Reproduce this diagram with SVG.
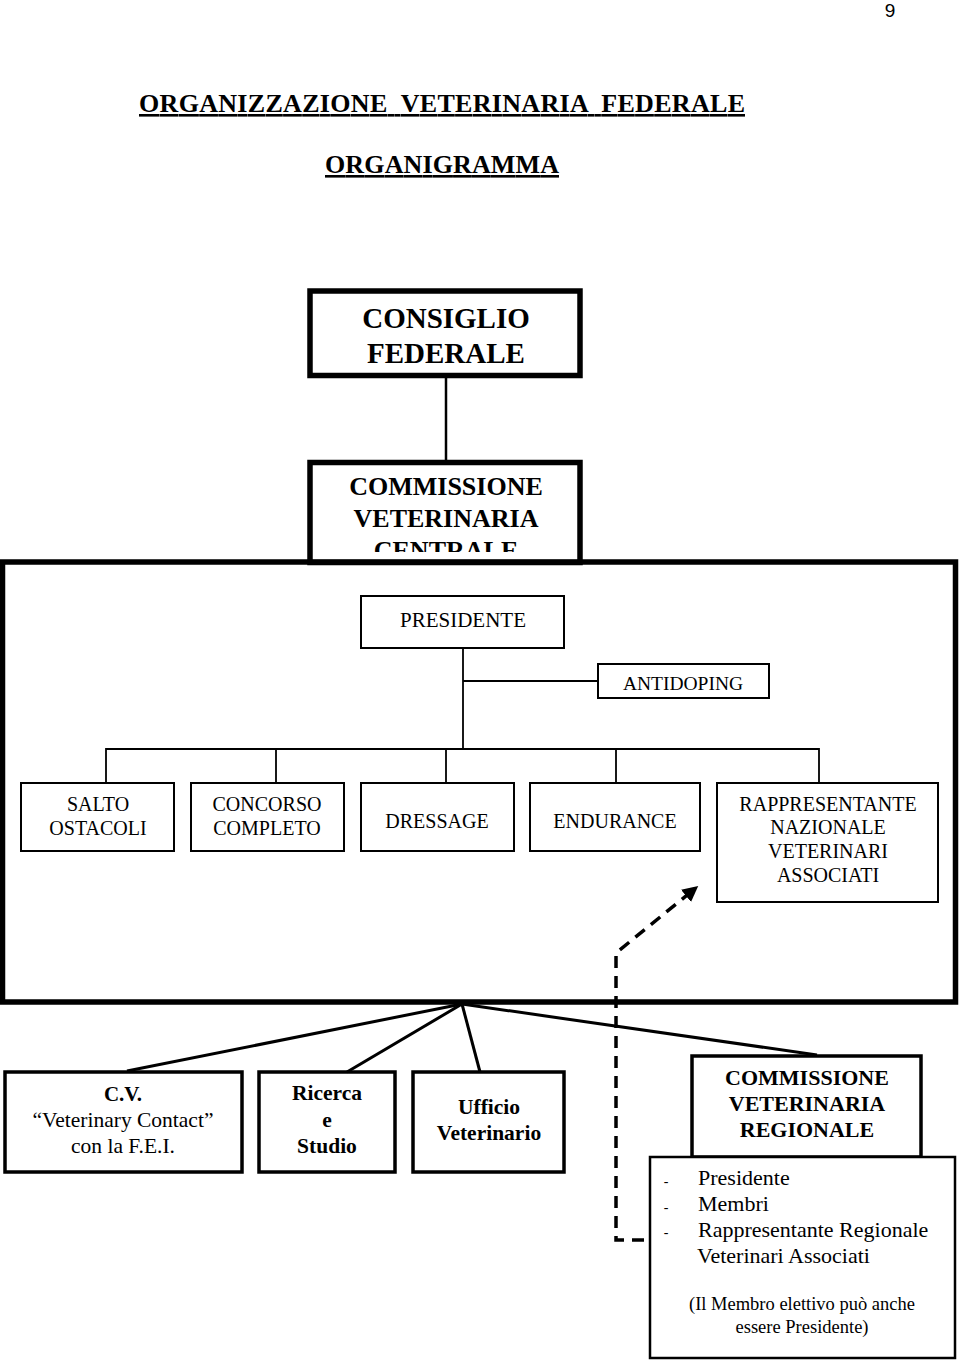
<svg xmlns="http://www.w3.org/2000/svg" width="960" height="1362" viewBox="0 0 960 1362">
<style>
text{font-family:"Liberation Serif","Times New Roman",serif;fill:#000;text-anchor:middle}
.b{font-weight:bold}
.box{fill:none;stroke:#000}
.thin{stroke-width:2}
.bold{stroke-width:3.5}
.heavy{stroke-width:5.5}
.ln{stroke:#000;fill:none}
</style>
<defs>
<marker id="ah" viewBox="0 0 10 10" refX="9" refY="5" markerWidth="4.5" markerHeight="4.5" orient="auto" markerUnits="strokeWidth">
<path d="M0,0 L10,5 L0,10 z" fill="#000"/>
</marker>
<clipPath id="clipC"><rect x="300" y="455" width="300" height="97"/></clipPath>
</defs>
<rect width="960" height="1362" fill="#fff"/>

<g id="header">
<text x="890" y="17" style="font-family:'Liberation Sans',Arial,sans-serif;font-size:19px">9</text>
<text x="442" y="112" class="b" style="font-size:26px;white-space:pre" text-decoration="underline" xml:space="preserve" textLength="606" lengthAdjust="spacing">ORGANIZZAZIONE  VETERINARIA  FEDERALE</text>
<text x="442" y="173" class="b" style="font-size:26px" text-decoration="underline" textLength="234" lengthAdjust="spacing">ORGANIGRAMMA</text>
</g>

<g id="connectors">
<line class="ln" x1="446" y1="378" x2="446" y2="460" stroke-width="2.5"/>
<line class="ln" x1="463" y1="648" x2="463" y2="749" stroke-width="1.8"/>
<line class="ln" x1="463" y1="681" x2="598" y2="681" stroke-width="1.8"/>
<polyline class="ln" points="106,783 106,749 819,749 819,783" stroke-width="1.8"/>
<line class="ln" x1="276" y1="749" x2="276" y2="783" stroke-width="1.8"/>
<line class="ln" x1="446" y1="749" x2="446" y2="783" stroke-width="1.8"/>
<line class="ln" x1="616" y1="749" x2="616" y2="783" stroke-width="1.8"/>
<line class="ln" x1="462" y1="1004" x2="127" y2="1071" stroke-width="3"/>
<line class="ln" x1="462" y1="1004" x2="347" y2="1072" stroke-width="3"/>
<line class="ln" x1="462" y1="1004" x2="480" y2="1072" stroke-width="3"/>
<line class="ln" x1="462" y1="1004" x2="817" y2="1055" stroke-width="3"/>
<polyline class="ln" points="664,1240 616,1240 616,953 697,887" stroke-width="3.5" stroke-dasharray="12,8" marker-end="url(#ah)"/>
</g>

<g id="consiglio">
<rect class="box heavy" x="310" y="291" width="270" height="84.5"/>
<text x="446" y="328" class="b" style="font-size:29px">CONSIGLIO</text>
<text x="446" y="363" class="b" style="font-size:29px">FEDERALE</text>
</g>

<g id="centrale">
<rect class="box heavy" x="310" y="462.5" width="270" height="100"/>
<g clip-path="url(#clipC)">
<text x="446" y="495" class="b" style="font-size:26px">COMMISSIONE</text>
<text x="446" y="527" class="b" style="font-size:26px">VETERINARIA</text>
<text x="446" y="559" class="b" style="font-size:26px">CENTRALE</text>
</g>
</g>

<g id="frame">
<rect class="box" x="2.5" y="562" width="953" height="440" stroke-width="5.5"/>
</g>

<g id="presidente">
<rect class="box thin" x="361" y="596" width="203" height="52"/>
<text x="463" y="627" style="font-size:21px">PRESIDENTE</text>
</g>

<g id="antidoping">
<rect class="box thin" x="598" y="664" width="171" height="34"/>
<text x="683" y="690" style="font-size:19.5px">ANTIDOPING</text>
</g>

<g id="salto">
<rect class="box thin" x="21" y="783" width="153" height="68"/>
<text x="98" y="811" style="font-size:20px">SALTO</text>
<text x="98" y="835" style="font-size:20px">OSTACOLI</text>
</g>

<g id="concorso">
<rect class="box thin" x="191" y="783" width="153" height="68"/>
<text x="267" y="811" style="font-size:20px">CONCORSO</text>
<text x="267" y="835" style="font-size:20px">COMPLETO</text>
</g>

<g id="dressage">
<rect class="box thin" x="361" y="783" width="153" height="68"/>
<text x="437" y="828" style="font-size:20px">DRESSAGE</text>
</g>

<g id="endurance">
<rect class="box thin" x="530" y="783" width="170" height="68"/>
<text x="615" y="828" style="font-size:20px">ENDURANCE</text>
</g>

<g id="rappresentante">
<rect class="box thin" x="717" y="783" width="221" height="119"/>
<text x="828" y="811" style="font-size:20px">RAPPRESENTANTE</text>
<text x="828" y="834" style="font-size:20px">NAZIONALE</text>
<text x="828" y="858" style="font-size:20px">VETERINARI</text>
<text x="828" y="882" style="font-size:20px">ASSOCIATI</text>
</g>

<g id="cv">
<rect class="box bold" x="5" y="1072" width="237" height="100"/>
<text x="123" y="1101" class="b" style="font-size:21px">C.V.</text>
<text x="123" y="1127" style="font-size:21.5px">“Veterinary Contact”</text>
<text x="123" y="1153" style="font-size:21.5px">con la F.E.I.</text>
</g>

<g id="ricerca">
<rect class="box bold" x="259" y="1072" width="136" height="100"/>
<text x="327" y="1100" class="b" style="font-size:21.5px">Ricerca</text>
<text x="327" y="1127" class="b" style="font-size:21.5px">e</text>
<text x="327" y="1153" class="b" style="font-size:21.5px">Studio</text>
</g>

<g id="ufficio">
<rect class="box bold" x="413" y="1072" width="151" height="100"/>
<text x="489" y="1114" class="b" style="font-size:21.5px">Ufficio</text>
<text x="489" y="1140" class="b" style="font-size:21.5px">Veterinario</text>
</g>

<g id="regionale">
<rect class="box bold" x="692" y="1056" width="229" height="101"/>
<text x="807" y="1085" class="b" style="font-size:22px">COMMISSIONE</text>
<text x="807" y="1111" class="b" style="font-size:22px">VETERINARIA</text>
<text x="807" y="1137" class="b" style="font-size:22px">REGIONALE</text>
</g>

<g id="membri">
<rect x="650" y="1157" width="305" height="201" fill="#fff" stroke="#000" stroke-width="2.5"/>
<g style="font-size:22px">
<text x="666" y="1186" style="font-size:14px">-</text>
<text x="666" y="1212" style="font-size:14px">-</text>
<text x="666" y="1237" style="font-size:14px">-</text>
<text x="698" y="1185" style="text-anchor:start">Presidente</text>
<text x="698" y="1211" style="text-anchor:start">Membri</text>
<text x="698" y="1237" style="text-anchor:start">Rappresentante Regionale</text>
<text x="697" y="1263" style="text-anchor:start">Veterinari Associati</text>
</g>
<text x="802" y="1310" style="font-size:18.5px">(Il Membro elettivo può anche</text>
<text x="802" y="1333" style="font-size:18.5px">essere Presidente)</text>
</g>
</svg>
